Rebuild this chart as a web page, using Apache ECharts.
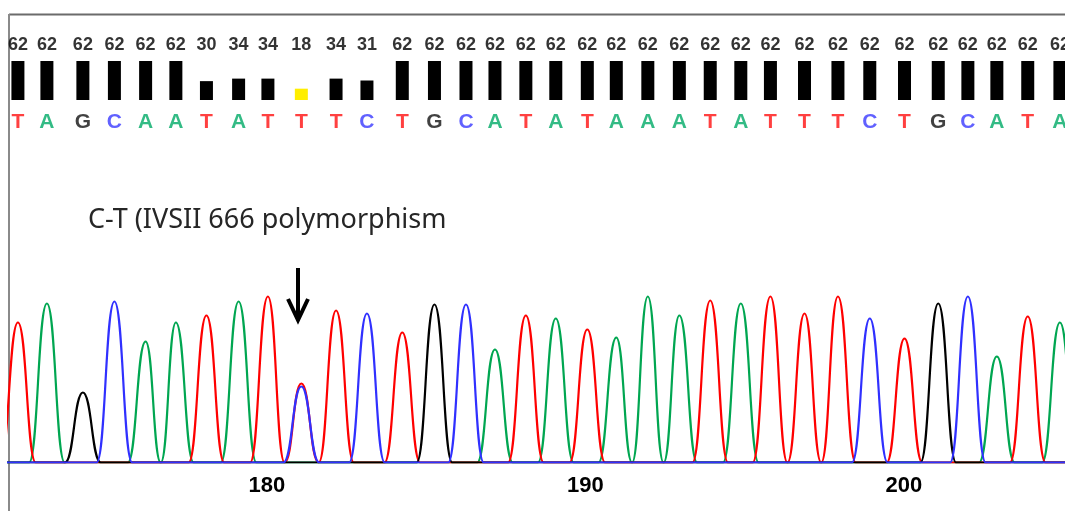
<!DOCTYPE html>
<html><head><meta charset="utf-8">
<script src="https://cdn.jsdelivr.net/npm/echarts@6/dist/echarts.min.js"></script>
<style>html,body{margin:0;padding:0;background:#fff}#c{width:1065px;height:511px}</style>
</head><body><div id="c"></div>
<script>
// ---- data ----
const bases = ['T','A','G','C','A','A','T','A','T','T','T','C','T','G','C','A','T','A','T','A','A','A','T','A','T','T','T','C','T','G','C','A','T','A'];
const quality = [62,62,62,62,62,62,30,34,34,18,34,31,62,62,62,62,62,62,62,62,62,62,62,62,62,62,62,62,62,62,62,62,62,62];
// base-call positions on the base-number axis
const basePos = [172.18,173.09,174.22,175.21,176.19,177.14,178.10,179.11,180.03,181.08,182.17,183.14,184.25,185.26,186.25,187.16,188.13,189.07,190.06,190.97,191.96,192.95,193.92,194.88,195.81,196.88,197.93,198.93,200.02,201.08,202.01,202.92,203.89,204.90];
const tickLabels = [180,190,200];
// peaks per dye channel: [base index, signal height]
const peaksA = [[1,1590],[4,1210],[5,1400],[7,1610],[15,1130],[17,1440],[19,1250],[20,1660],[21,1470],[23,1590],[31,1060],[33,1400]];
const peaksC = [[3,1610],[9,760],[11,1490],[14,1580],[27,1440],[30,1660]];
const peaksG = [[2,700],[13,1580],[29,1590]];
const peaksT = [[0,1400],[6,1470],[8,1660],[9,790],[10,1520],[12,1300],[16,1470],[18,1330],[22,1620],[24,1660],[25,1490],[26,1660],[28,1240],[32,1460]];
const annotation = 'C-T (IVSII 666 polymorphism';

// ---- styling / layout constants ----
const XMIN = 171.9, XMAX = 205.06;
const HALF = 0.56;           // peak half-width in base units
const baseColor = {A:'#00a651', C:'#3030ff', G:'#000000', T:'#ff0000'};
const letterColor = {A:'#00aa66', C:'#3a3aff', G:'#111111', T:'#ff1010'};

function trace(peaks){
  const pts = [[XMIN-1,0]];
  let lastE = -Infinity;
  peaks.forEach(([bi,h])=>{
    const c = basePos[bi];
    let s = c - HALF, e = c + HALF;
    if (s < lastE){ const m=(s+lastE)/2; pts[pts.length-1][0]=m; s=m; }
    else pts.push([s,0]);
    pts.push([c,h]);
    pts.push([e,0]);
    lastE = e;
  });
  pts.push([XMAX+1,0]);
  return pts;
}

const chart = echarts.init(document.getElementById('c'), null, {renderer:'canvas'});
const xBase = {type:'value', min:XMIN, max:XMAX, show:false};
const lineSeries = (name, peaks, color, z) => ({
  name, type:'line', xAxisIndex:2, yAxisIndex:2, data:trace(peaks),
  showSymbol:false, symbol:'none', smooth:0.5, smoothMonotone:'x',
  lineStyle:{color, width:2.2}, z, animation:false, silent:true
});

chart.setOption({
  animation:false,
  backgroundColor:'#ffffff',
  grid:[
    {left:9, right:0, top:30, height:105},
    {left:9, right:0, top:61, height:39},
    {left:9, right:0, top:262.5, height:200}
  ],
  xAxis:[
    Object.assign({gridIndex:0}, xBase),
    Object.assign({gridIndex:1}, xBase),
    {gridIndex:2, type:'value', min:XMIN, max:XMAX,
     axisLine:{show:false}, axisTick:{show:false}, splitLine:{show:false},
     axisLabel:{show:true, customValues:tickLabels, margin:12, fontSize:22, fontWeight:'bold',
       fontFamily:'Liberation Sans', color:'#000'}}
  ],
  yAxis:[
    {gridIndex:0, type:'value', min:0, max:105, show:false},
    {gridIndex:1, type:'value', min:0, max:62, show:false},
    {gridIndex:2, type:'value', min:0, max:2000, show:false}
  ],
  series:[
    {type:'bar', xAxisIndex:1, yAxisIndex:1, barWidth:13, animation:false, silent:true,
     data: quality.map((q,i)=>({value:[basePos[i], q], itemStyle:{color: q<20 ? '#ffee00' : '#000000'}}))},
    {type:'scatter', xAxisIndex:0, yAxisIndex:0, symbolSize:1, itemStyle:{color:'transparent'}, silent:true,
     data: quality.map((q,i)=>[basePos[i], 90]),
     label:{show:true, position:'inside', formatter:p=>String(quality[p.dataIndex]),
       fontSize:18, fontWeight:'bold', fontFamily:'Liberation Sans', color:'#000', textBorderWidth:0}},
    {type:'scatter', xAxisIndex:0, yAxisIndex:0, symbolSize:1, itemStyle:{color:'transparent'}, silent:true,
     data: bases.map((b,i)=>({value:[basePos[i], 13], label:{color:letterColor[b]}})),
     label:{show:true, position:'inside', formatter:p=>bases[p.dataIndex],
       fontSize:21, fontWeight:'bold', fontFamily:'Liberation Sans', textBorderWidth:0}},
    lineSeries('A', peaksA, baseColor.A, 2),
    lineSeries('T', peaksT, baseColor.T, 3),
    lineSeries('G', peaksG, baseColor.G, 4),
    lineSeries('C', peaksC, baseColor.C, 5)
  ],
  graphic:[
    {type:'line', shape:{x1:9,y1:14.5,x2:1065,y2:14.5}, style:{stroke:'#6b6b6b', lineWidth:2}, silent:true},
    {type:'line', shape:{x1:9,y1:14,x2:9,y2:511}, style:{stroke:'#8a8a8a', lineWidth:2}, silent:true},
    {type:'text', x:88, y:220, silent:true,
     style:{text:annotation, fontSize:27, fontFamily:'Noto Sans', fill:'#262626', verticalAlign:'middle'}},
    {type:'polyline', shape:{points:[[298,268],[298,318]]}, style:{stroke:'#000', lineWidth:4}, silent:true},
    {type:'polyline', shape:{points:[[288,299],[298,320],[308,299]]}, style:{stroke:'#000', lineWidth:4, fill:null, lineJoin:'miter'}, silent:true}
  ]
});
</script>
</body></html>
